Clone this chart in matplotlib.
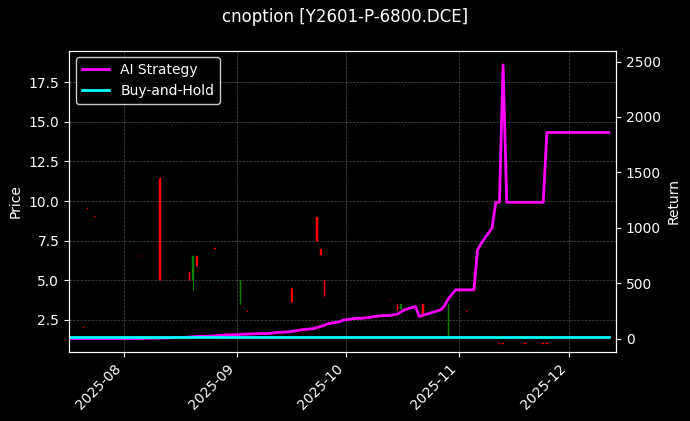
import pandas as pd
import matplotlib
matplotlib.use("Agg")
import matplotlib.pyplot as plt
import matplotlib.dates as mdates

# strategy returns, one per business day 2025-07-17 .. 2025-12-12
ret_jul = [0, 0, 0, 0, 0, 0, 0, 0, 0, 0, 0]
ret_aug = [0, 0, 0, 1, 2, 3, 4, 5, 6, 8, 10, 12, 14, 16, 18, 20, 22, 25, 28, 30, 33]
ret_sep = [35, 38, 40, 40, 42, 45, 45, 48, 50, 55, 60, 65, 70, 75, 80, 90, 100, 110, 120, 135, 150, 165]
ret_oct = [170, 175, 180, 185, 190, 195, 200, 205, 210, 215, 220, 240, 260, 290, 200, 210, 220, 230, 260, 300, 360, 400, 440]
ret_nov = [440, 440, 440, 800, 860, 1000, 1230, 1230, 2470, 1230, 1230, 1230, 1230, 1230, 1230, 1230, 1860, 1860, 1860, 1860]
ret_dec = [1860, 1860, 1860, 1860, 1860, 1860, 1860, 1860, 1860, 1860]
bh_value = 15

# candles: date, open, high, low, close
c_dates = ["2025-07-18", "2025-07-21", "2025-07-22", "2025-07-24", "2025-08-05", "2025-08-06",
           "2025-08-07", "2025-08-11", "2025-08-13", "2025-08-15", "2025-08-19", "2025-08-20",
           "2025-08-21", "2025-08-26", "2025-08-28", "2025-09-02", "2025-09-04", "2025-09-09",
           "2025-09-11", "2025-09-16", "2025-09-18", "2025-09-19", "2025-09-23", "2025-09-24",
           "2025-09-25", "2025-09-30", "2025-10-01", "2025-10-09", "2025-10-13", "2025-10-15",
           "2025-10-16", "2025-10-20", "2025-10-22", "2025-10-29", "2025-11-03", "2025-11-12",
           "2025-11-13", "2025-11-19", "2025-11-24", "2025-11-25"]
c_open = [4.5, 2.0, 9.5, 9.0, 6.5, 6.5, 4.0, 11.4, 5.5, 5.0, 5.5, 5.0, 6.5, 7.0, 4.5, 3.6, 3.0, 4.0,
          6.5, 4.5, 4.0, 5.5, 9.0, 7.0, 5.0, 6.5, 6.5, 4.5, 3.8, 3.5, 3.2, 3.5, 3.5, 1.5, 3.0, 1.0,
          1.0, 1.0, 1.0, 1.0]
c_high = [4.5, 2.0, 9.5, 9.0, 6.5, 6.5, 4.0, 11.5, 5.5, 5.0, 5.5, 6.5, 6.5, 7.0, 4.5, 5.0, 3.0, 4.0,
          6.5, 4.5, 4.0, 5.5, 9.0, 7.0, 5.0, 6.5, 6.5, 4.5, 3.8, 3.5, 3.5, 3.5, 3.5, 3.5, 3.0, 1.0,
          1.0, 1.0, 1.0, 1.0]
c_low = [4.5, 2.0, 9.5, 9.0, 6.5, 6.5, 4.0, 5.0, 5.5, 5.0, 5.0, 4.4, 5.9, 7.0, 4.5, 3.5, 3.0, 4.0,
         6.5, 3.6, 4.0, 5.5, 7.5, 6.6, 4.0, 6.5, 6.5, 4.5, 3.8, 3.1, 3.2, 3.5, 2.9, 1.4, 3.0, 1.0,
         1.0, 1.0, 1.0, 1.0]
c_close = [4.5, 2.0, 9.5, 9.0, 6.5, 6.5, 4.0, 5.0, 5.5, 5.0, 5.0, 6.5, 5.9, 7.0, 4.5, 5.0, 3.0, 4.0,
           6.5, 3.6, 4.0, 5.5, 7.5, 6.6, 4.0, 6.5, 6.5, 4.5, 3.8, 3.1, 3.5, 3.5, 2.9, 3.5, 3.0, 1.0,
           1.0, 1.0, 1.0, 1.0]

plt.style.use("dark_background")
fig, ax = plt.subplots(figsize=(6.9, 4.21), dpi=100)
fig.suptitle("cnoption [Y2601-P-6800.DCE]", color="white", fontsize=12)

cd = pd.to_datetime(c_dates)
for d, o, h, l, c in zip(cd, c_open, c_high, c_low, c_close):
    col = "green" if c > o else "red"
    ax.vlines(d, l, h, color=col, linewidth=0.8)
    lo, hi = min(o, c), max(o, c)
    ax.bar(d, max(hi - lo, 0.03), bottom=lo, width=0.4, color=col, edgecolor=col, linewidth=0.3)

ax.set_ylabel("Price")
ax.set_ylim(0.5, 19.5)
ax.grid(True, linestyle="--", linewidth=0.5, color="gray", alpha=0.6)

dates = pd.bdate_range("2025-07-17", "2025-12-12")
returns = ret_jul + ret_aug + ret_sep + ret_oct + ret_nov + ret_dec
bh = [bh_value] * len(dates)
ax2 = ax.twinx()
ax2.plot(dates, returns, color="magenta", linewidth=2, label="AI Strategy")
ax2.plot(dates, bh, color="cyan", linewidth=2, label="Buy-and-Hold")
ax2.set_ylabel("Return")
ax2.set_ylim(-117, 2600)
ax2.legend(loc="upper left", edgecolor="white")

ax.set_xlim(pd.Timestamp("2025-07-17"), pd.Timestamp("2025-12-14"))
ax.xaxis.set_major_locator(mdates.MonthLocator())
ax.xaxis.set_major_formatter(mdates.DateFormatter("%Y-%m"))
plt.setp(ax.get_xticklabels(), rotation=45, ha="right")

fig.subplots_adjust(left=0.1, right=0.893, top=0.88, bottom=0.165)
fig.savefig("out.png", facecolor="black")
